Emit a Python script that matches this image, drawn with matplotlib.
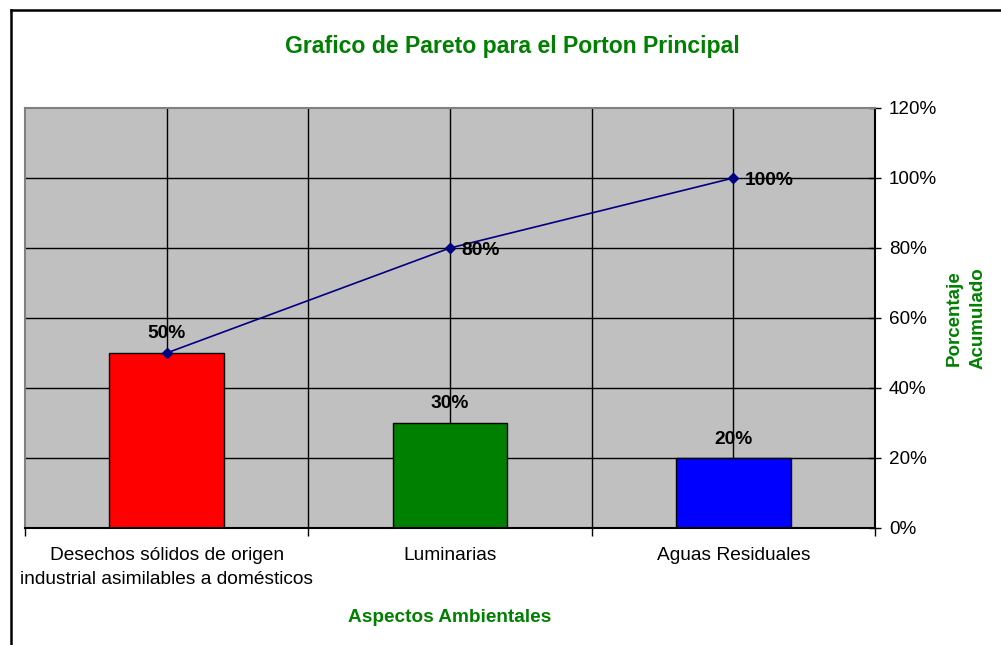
import matplotlib.pyplot as plt
from matplotlib.lines import Line2D
from matplotlib.ticker import FuncFormatter

plt.rcParams['font.family'] = ['Liberation Sans', 'DejaVu Sans']

categorias = ["Desechos sólidos de origen\nindustrial asimilables a domésticos",
              "Luminarias",
              "Aguas Residuales"]
porcentaje = [50, 30, 20]
acumulado = [50, 80, 100]
colores = ['#ff0000', '#008000', '#0000ff']

verde = '#008000'

fig = plt.figure(figsize=(10.01, 6.45), dpi=100)
ax = fig.add_axes([25 / 1001, 117 / 645, 850 / 1001, 420 / 645])
ax.set_facecolor('#c0c0c0')

x = list(range(len(categorias)))

# vertical grid at half-category steps, horizontal every 20%
for gx in [0, 0.5, 1, 1.5, 2]:
    ax.axvline(gx, color='black', linewidth=1, zorder=1)
for gy in range(20, 120, 20):
    ax.axhline(gy, color='black', linewidth=1, zorder=1)

ax.bar(x, porcentaje, width=0.405, color=colores, edgecolor='black',
       linewidth=1, zorder=2)
ax.plot(x, acumulado, color='#000080', linewidth=1.2, marker='D',
        markersize=5, zorder=3)

# labels on bars and on the cumulative line
for xi, v in zip(x, porcentaje):
    ax.text(xi, v + 3, f'{v}%', ha='center', va='bottom', fontsize=13.8,
            fontweight='bold', zorder=4)
for xi, v in zip(x[1:], acumulado[1:]):
    ax.text(xi + 0.04, v - 0.8, f'{v}%', ha='left', va='center', fontsize=13.8,
            fontweight='bold', zorder=4)

ax.set_xlim(-0.5, 2.5)
ax.set_ylim(0, 120)

ax.yaxis.tick_right()
ax.set_yticks(range(0, 121, 20))
ax.yaxis.set_major_formatter(FuncFormatter(lambda v, p: f'{v:.0f}%'))
ax.tick_params(axis='y', direction='inout', length=8, width=1,
               labelsize=13.6, pad=6)

ax.set_xticks([-0.5, 0.5, 1.5, 2.5])
ax.set_xticklabels([])
ax.tick_params(axis='x', direction='out', length=6, width=1)
for xi, lab in zip(x, categorias):
    ax.text(xi, -5.4, lab, ha='center', va='top', fontsize=13.8,
            linespacing=1.55, transform=ax.transData)

ax.spines['bottom'].set_color('black')
ax.spines['right'].set_color('black')
ax.spines['left'].set_color('#808080')
ax.spines['top'].set_color('#808080')
for s in ax.spines.values():
    s.set_linewidth(1.5)

fig.text(512 / 1001, 1 - 46 / 645, 'Grafico de Pareto para el Porton Principal',
         ha='center', va='center', fontsize=16.6, fontweight='bold', color=verde)
fig.text(450 / 1001, 1 - 617 / 645, 'Aspectos Ambientales', ha='center',
         va='center', fontsize=13.7, fontweight='bold', color=verde)
fig.text(966 / 1001, 1 - 318 / 645, 'Porcentaje\nAcumulado', ha='center',
         va='center', rotation=90, fontsize=13.5, fontweight='bold',
         color=verde, linespacing=1.5)

# outer chart border (top and left only visible)
fig.add_artist(Line2D([10.5 / 1001, 1], [1 - 10 / 645, 1 - 10 / 645],
                      color='black', linewidth=1.8))
fig.add_artist(Line2D([10.5 / 1001, 10.5 / 1001], [0, 1 - 10 / 645],
                      color='black', linewidth=1.8))

fig.savefig('out.png', dpi=100)
